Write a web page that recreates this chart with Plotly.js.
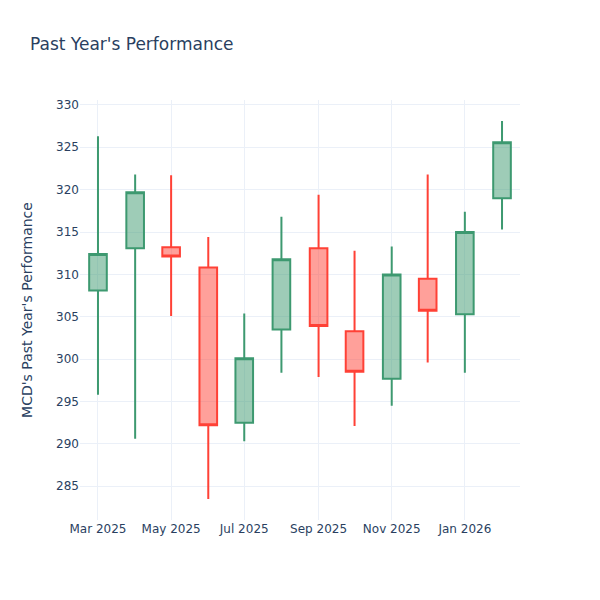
<!DOCTYPE html>
<html>
<head>
<meta charset="utf-8">
<script src="https://cdn.plot.ly/plotly-3.0.1.min.js"></script>
<style>html,body{margin:0;padding:0;background:#fff;}#chart{width:600px;height:600px;}</style>
</head>
<body>
<div id="chart"></div>
<script>
const dates = ["2025-03-01","2025-04-01","2025-05-01","2025-06-01","2025-07-01","2025-08-01","2025-09-01","2025-10-01","2025-11-01","2025-12-01","2026-01-01","2026-02-01"];
const openVals  = [308.1, 313.1, 313.2, 310.8, 292.5, 303.5, 313.1, 303.3, 297.7, 309.5, 305.3, 319.0];
const highVals  = [326.3, 321.8, 321.7, 314.4, 305.4, 316.8, 319.4, 312.8, 313.3, 321.8, 317.4, 328.1];
const lowVals   = [295.8, 290.6, 305.1, 283.5, 290.3, 298.4, 297.9, 292.1, 294.5, 299.6, 298.4, 315.3];
const closeVals = [312.4, 319.7, 312.1, 292.2, 300.1, 311.8, 303.9, 298.5, 310.0, 305.7, 315.0, 325.6];

const font = "DejaVu Sans, sans-serif";
const trace = {
  type: "candlestick",
  x: dates, open: openVals, high: highVals, low: lowVals, close: closeVals,
  increasing: {line: {color: "#3D9970"}},
  decreasing: {line: {color: "#FF4136"}}
};
const layout = {
  width: 600, height: 600,
  font: {family: font, color: "#2a3f5f", size: 12},
  paper_bgcolor: "#fff", plot_bgcolor: "#fff",
  title: {text: "Past Year's Performance", x: 0.05, font: {size: 17, family: font, color: "#2a3f5f"}},
  margin: {l: 80, r: 80, t: 100, b: 80},
  showlegend: false,
  xaxis: {
    type: "date",
    rangeslider: {visible: false},
    gridcolor: "#EBF0F8", zerolinecolor: "#EBF0F8", linecolor: "#EBF0F8",
    showline: false, ticks: "", automargin: true
  },
  yaxis: {
    title: {text: "MCD's Past Year's Performance", font: {size: 14, family: font}, standoff: 20},
    gridcolor: "#EBF0F8", zerolinecolor: "#EBF0F8",
    ticks: "", automargin: true, dtick: 5
  }
};
Plotly.newPlot("chart", [trace], layout, {displayModeBar: false});
</script>
</body>
</html>
